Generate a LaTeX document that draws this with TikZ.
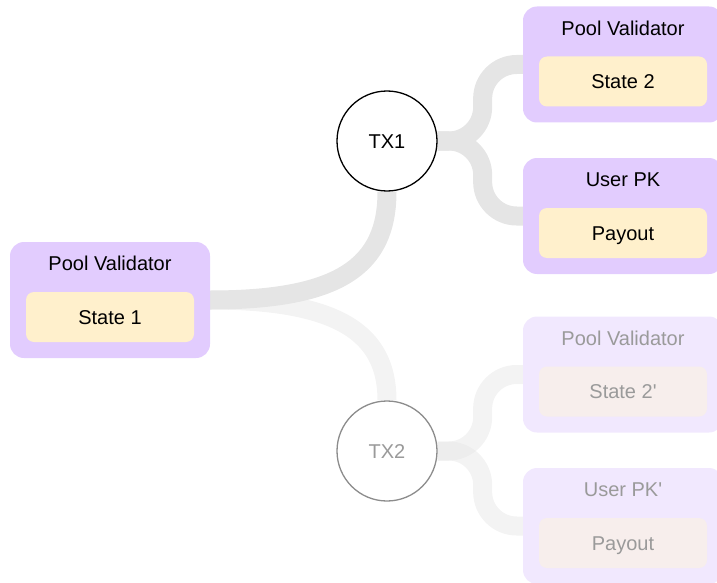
\documentclass[tikz,border=0pt]{standalone}
\usepackage{fontspec}
\setmainfont{Liberation Sans}
\usepackage{tikz}
\usetikzlibrary{positioning,backgrounds}

\definecolor{boxlilac}{HTML}{E2CCFE}
\definecolor{boxcream}{HTML}{FFF0CC}
\definecolor{fadelilac}{HTML}{F1E8FE}
\definecolor{fadecream}{HTML}{F7EEEC}
\definecolor{linkgray}{HTML}{E5E5E5}
\definecolor{fadetext}{HTML}{9A9A9A}

\begin{document}
\begin{tikzpicture}[x=1pt, y=-1pt,
        font=\fontsize{20}{22}\selectfont, text=black,
        utxo/.style={rectangle, rounded corners=14pt, fill=boxlilac,
          minimum width=200pt, minimum height=116pt, inner sep=0pt},
        datum/.style={rectangle, rounded corners=8pt, fill=boxcream,
          minimum width=168pt, minimum height=50pt, inner sep=0pt,
          text height=14pt, text depth=0pt},
        title/.style={anchor=base, inner sep=0pt},
        faded/.style={fill=fadelilac, text=fadetext},
        fadeddatum/.style={fill=fadecream, text=fadetext},
        tx/.style={circle, draw=black, line width=1.3pt, fill=white,
          minimum size=100pt, inner sep=0pt, text height=14pt, text depth=0pt},
        link/.style={draw=linkgray, line width=19pt, rounded corners=34pt},
        fadelink/.style={link, draw opacity=0.45}]
      \useasboundingbox (0,0) rectangle (717,583);

      % input utxo
      \node (pv1) [utxo] at (110,300) {};
      \node (pv1t) [title] at ([yshift=-29pt]pv1.north) {Pool Validator};
      \node (st1) [datum] at ([yshift=-17pt]pv1.center) {State 1};

      \node (tx1) [tx] at (387,141) {TX1};
      \node (tx2) [tx, draw=black!45, text=fadetext] at (387,451) {TX2};

      % outputs of TX1
      \node (pv2) [utxo] at (623,64.5) {};
      \node (pv2t) [title] at ([yshift=-29pt]pv2.north) {Pool Validator};
      \node (st2) [datum] at ([yshift=-17pt]pv2.center) {State 2};
      \node (pk1) [utxo] at (623,216) {};
      \node (pk1t) [title] at ([yshift=-29pt]pk1.north) {User PK};
      \node (po1) [datum] at ([yshift=-17pt]pk1.center) {Payout};

      % outputs of TX2
      \node (pv3) [utxo, faded] at (623,374.5) {};
      \node (pv3t) [title, text=fadetext] at ([yshift=-29pt]pv3.north) {Pool Validator};
      \node (st3) [datum, fadeddatum] at ([yshift=-17pt]pv3.center) {State 2\textquotesingle};
      \node (pk2) [utxo, faded] at (623,526) {};
      \node (pk2t) [title, text=fadetext] at ([yshift=-29pt]pk2.north) {User PK\textquotesingle};
      \node (po2) [datum, fadeddatum] at ([yshift=-17pt]pk2.center) {Payout};

      \begin{scope}[on background layer]
        \draw[fadelink] (pv1.east) .. controls +(130,0) and +(0,-66) .. (tx2.north);
        \draw[fadelink] (tx2.east) -- ++(45,0) |- (pv3.west);
        \draw[fadelink] (tx2.east) -- ++(45,0) |- (pk2.west);
        \draw[link] (pv1.east) .. controls +(130,0) and +(0,74) .. (tx1.south);
        \draw[link] (tx1.east) -- ++(45,0) |- (pv2.west);
        \draw[link] (tx1.east) -- ++(45,0) |- (pk1.west);
      \end{scope}
    \end{tikzpicture}
\end{document}
